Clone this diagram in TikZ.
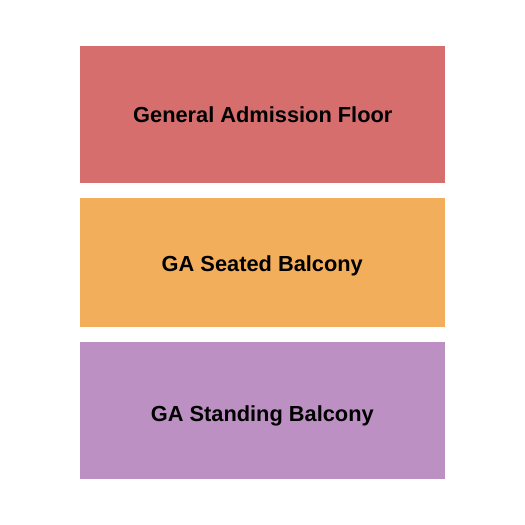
\documentclass[tikz,border=0pt]{standalone}
\usepackage{fontspec}
\setmainfont{Liberation Sans}
\definecolor{floorred}{HTML}{D76E6E}
\definecolor{seatorange}{HTML}{F3AE5B}
\definecolor{standpurple}{HTML}{BD90C3}
\begin{document}
\begin{tikzpicture}[x=1pt,y=-1pt,
  section/.style={draw=none,inner sep=0pt,anchor=base,font=\fontsize{21.8}{24}\selectfont\bfseries,text=black}]
\useasboundingbox[fill=white] (0,0) rectangle (525,525);
\fill[floorred] (80,46) rectangle (445,183);
\fill[seatorange] (80,198) rectangle (445,327);
\fill[standpurple] (80,342) rectangle (445,479);
\node[section] (floor) at (262.8,122.3) {General Admission Floor};
\node[section] (seated) at (262.3,271.5) {GA Seated Balcony};
\node[section] (standing) at (262.3,421) {GA Standing Balcony};
\end{tikzpicture}
\end{document}
